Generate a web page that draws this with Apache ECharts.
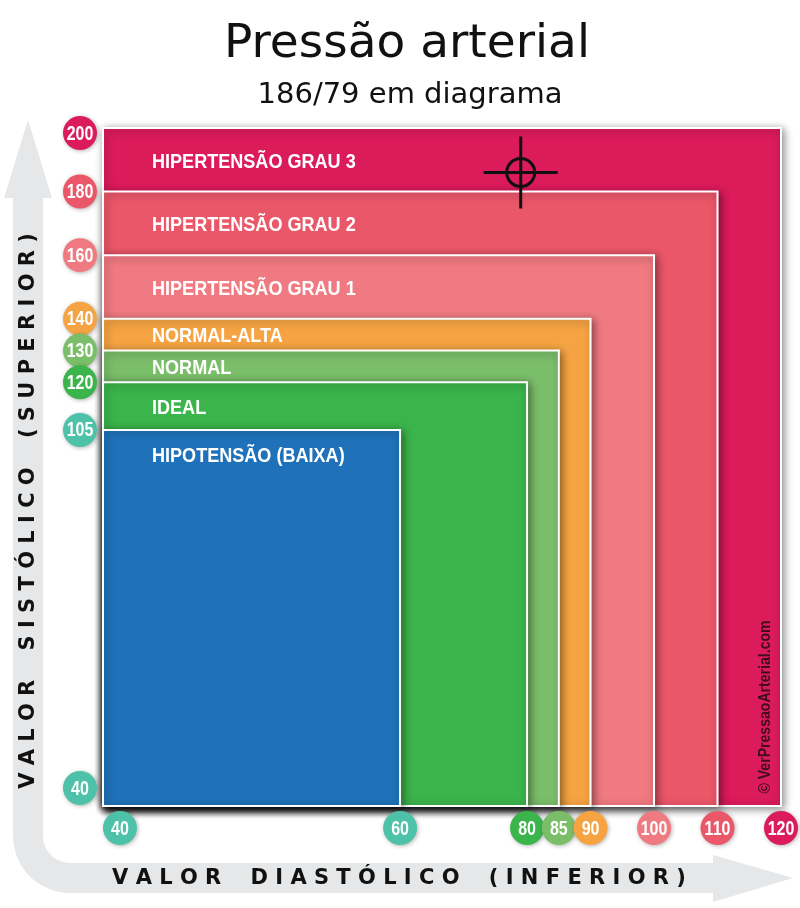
<!DOCTYPE html>
<html>
<head>
<meta charset="utf-8">
<title>Pressão arterial</title>
<script src="https://cdn.jsdelivr.net/npm/echarts@6/dist/echarts.min.js"></script>
<style>
  html, body { margin: 0; padding: 0; background: #fff; }
  #chart { width: 800px; height: 908px; }
</style>
</head>
<body>
<div id="chart"></div>
<script>
// zonas, da maior para a menor
const zoneNames = ["HIPERTENSÃO GRAU 3", "HIPERTENSÃO GRAU 2", "HIPERTENSÃO GRAU 1", "NORMAL-ALTA", "NORMAL", "IDEAL", "HIPOTENSÃO (BAIXA)"];
const diastolicLimits = [120, 110, 100, 90, 85, 80, 60];
const systolicLimits = [200, 180, 160, 140, 130, 120, 105];
const zoneColors = ["#DC1B5B", "#EA5769", "#F07A81", "#F6A443", "#7BBE6A", "#3BB44B", "#1F72BA"];

const xTicks = [40, 60, 80, 85, 90, 100, 110, 120];
const xTickColors = ["#4EC2A9", "#4EC2A9", "#3BB44B", "#7BBE6A", "#F6A443", "#F07A81", "#EA5769", "#DC1B5B"];
const yTicks = [200, 180, 160, 140, 130, 120, 105, 40];
const yTickColors = ["#DC1B5B", "#EA5769", "#F07A81", "#F6A443", "#7BBE6A", "#3BB44B", "#4EC2A9", "#4EC2A9"];

const axisStart = 40;
const reading = [79, 186]; // diastólica, sistólica

// a escala é quebrada: abaixo de 60 (x) e 105 (y) o trecho é esticado
const fx = v => v >= 60 ? v : 60 - (60 - v) * 2.34;
const fy = v => v >= 105 ? v : 105 - (105 - v) * 1.82;

const sans = '"Liberation Sans", Arial, sans-serif';

function spaced(words) {
  return words.map(w => w.split("").join(" ")).join("    ");
}

// faixa cinza em L com setas
function arrowPoints() {
  const pts = [[28, 120], [52, 198], [43, 198], [43, 836]];
  for (let a = 0; a <= 90; a += 10) {
    const r = a * Math.PI / 180;
    pts.push([70 - 27 * Math.cos(r), 836 + 27 * Math.sin(r)]);
  }
  pts.push([713, 863], [713, 855], [793, 878], [713, 902], [713, 893]);
  for (let a = 90; a >= 0; a -= 10) {
    const r = a * Math.PI / 180;
    pts.push([70 - 57 * Math.cos(r), 836 + 57 * Math.sin(r)]);
  }
  pts.push([13, 198], [4, 198]);
  return pts;
}

function badge(cx, cy, color, label, z) {
  return {
    type: "group",
    children: [
      { type: "circle", z2: z, shape: { cx: cx, cy: cy, r: 17 }, style: { fill: color, shadowBlur: 4, shadowColor: "rgba(0,0,0,0.3)", shadowOffsetX: 1, shadowOffsetY: 1 } },
      {
        type: "text", z2: z + 1, x: cx, y: cy + 1, scaleX: 0.8,
        style: { text: label, fill: "#fff", font: "bold 20px " + sans, align: "center", verticalAlign: "middle" }
      }
    ]
  };
}

let chart = echarts.init(document.getElementById("chart"));

let option = {
  backgroundColor: "#fff",
  animation: false,
  grid: { left: 103, right: 19, top: 128, bottom: 102 },
  xAxis: { type: "value", min: fx(axisStart), max: 120, show: false },
  yAxis: { type: "value", min: fy(axisStart), max: 200, show: false },
  graphic: [
    { type: "polygon", z: 0, shape: { points: arrowPoints() }, style: { fill: "#E6E7E8" } },
    {
      type: "text", x: 407, y: 45, z: 10,
      style: { text: "Pressão arterial", font: 'normal 47px "DejaVu Sans", Verdana, sans-serif', fill: "#111", align: "center", verticalAlign: "middle" }
    },
    {
      type: "text", x: 410, y: 95, z: 10,
      style: { text: "186/79 em diagrama", font: 'normal 29px "DejaVu Sans", Verdana, sans-serif', fill: "#111", align: "center", verticalAlign: "middle" }
    },
    {
      type: "text", x: 399, y: 879, z: 10,
      style: { text: spaced(["VALOR", "DIASTÓLICO", "(INFERIOR)"]), font: 'bold 21px "DejaVu Sans", sans-serif', fill: "#111", align: "center", verticalAlign: "middle" }
    },
    {
      type: "text", x: 29, y: 511, z: 10, rotation: Math.PI / 2,
      style: { text: spaced(["VALOR", "SISTÓLICO", "(SUPERIOR)"]), font: 'bold 21px "DejaVu Sans", sans-serif', fill: "#111", align: "center", verticalAlign: "middle" }
    },
    {
      type: "text", x: 766, y: 707, z: 10, rotation: Math.PI / 2, scaleX: 0.88,
      style: { text: "© VerPressaoArterial.com", font: "bold 16px " + sans, fill: "rgba(35,10,20,0.85)", align: "center", verticalAlign: "middle" }
    }
  ],
  series: [
    {
      type: "custom",
      clip: false,
      data: zoneNames.map((n, i) => [fx(diastolicLimits[i]), fy(systolicLimits[i]), i]),
      renderItem: (params, api) => {
        const i = api.value(2);
        const p0 = api.coord([fx(axisStart), fy(axisStart)]);
        const p1 = api.coord([api.value(0), api.value(1)]);
        const labelY = i + 1 < systolicLimits.length
          ? (p1[1] + api.coord([0, fy(systolicLimits[i + 1])])[1]) / 2 + 2
          : p1[1] + 26;
        return {
          type: "group",
          children: [
            {
              type: "rect", z2: i * 2,
              shape: { x: p0[0], y: p1[1], width: p1[0] - p0[0], height: p0[1] - p1[1] },
              style: { fill: zoneColors[i], stroke: "#fff", lineWidth: 2, shadowBlur: 8, shadowColor: "rgba(0,0,0,0.45)", shadowOffsetX: 2, shadowOffsetY: 2 }
            },
            {
              type: "text", z2: 50, x: p0[0] + 49, y: labelY, scaleX: 0.86,
              style: { text: zoneNames[i], fill: "#fff", font: "bold 21px " + sans, verticalAlign: "middle" }
            }
          ]
        };
      }
    },
    {
      type: "custom",
      clip: false,
      z: 5,
      data: xTicks.map((v, i) => [fx(v), fy(axisStart), i]),
      renderItem: (params, api) => {
        const i = api.value(2);
        const p = api.coord([api.value(0), api.value(1)]);
        const cx = p[0] + (xTicks[i] === axisStart ? 17 : 0);
        return badge(cx, p[1] + 22, xTickColors[i], String(xTicks[i]), i * 2);
      }
    },
    {
      type: "custom",
      clip: false,
      z: 5,
      data: yTicks.map((v, i) => [fx(axisStart), fy(v), i]),
      renderItem: (params, api) => {
        const i = api.value(2);
        const p = api.coord([api.value(0), api.value(1)]);
        const cy = p[1] + (yTicks[i] === axisStart ? -18 : 0) + (i === 0 ? 5 : 0);
        return badge(p[0] - 23, cy, yTickColors[i], String(yTicks[i]), i * 2);
      }
    },
    {
      type: "custom",
      clip: false,
      z: 6,
      data: [[fx(reading[0]), fy(reading[1])]],
      renderItem: (params, api) => {
        const p = api.coord([api.value(0), api.value(1)]);
        const s = { stroke: "#111", lineWidth: 3, fill: null };
        return {
          type: "group",
          children: [
            { type: "circle", shape: { cx: p[0], cy: p[1], r: 14 }, style: s },
            { type: "line", shape: { x1: p[0] - 37, y1: p[1], x2: p[0] + 37, y2: p[1] }, style: s },
            { type: "line", shape: { x1: p[0], y1: p[1] - 36, x2: p[0], y2: p[1] + 36 }, style: s }
          ]
        };
      }
    }
  ]
};

chart.setOption(option);
</script>
</body>
</html>
